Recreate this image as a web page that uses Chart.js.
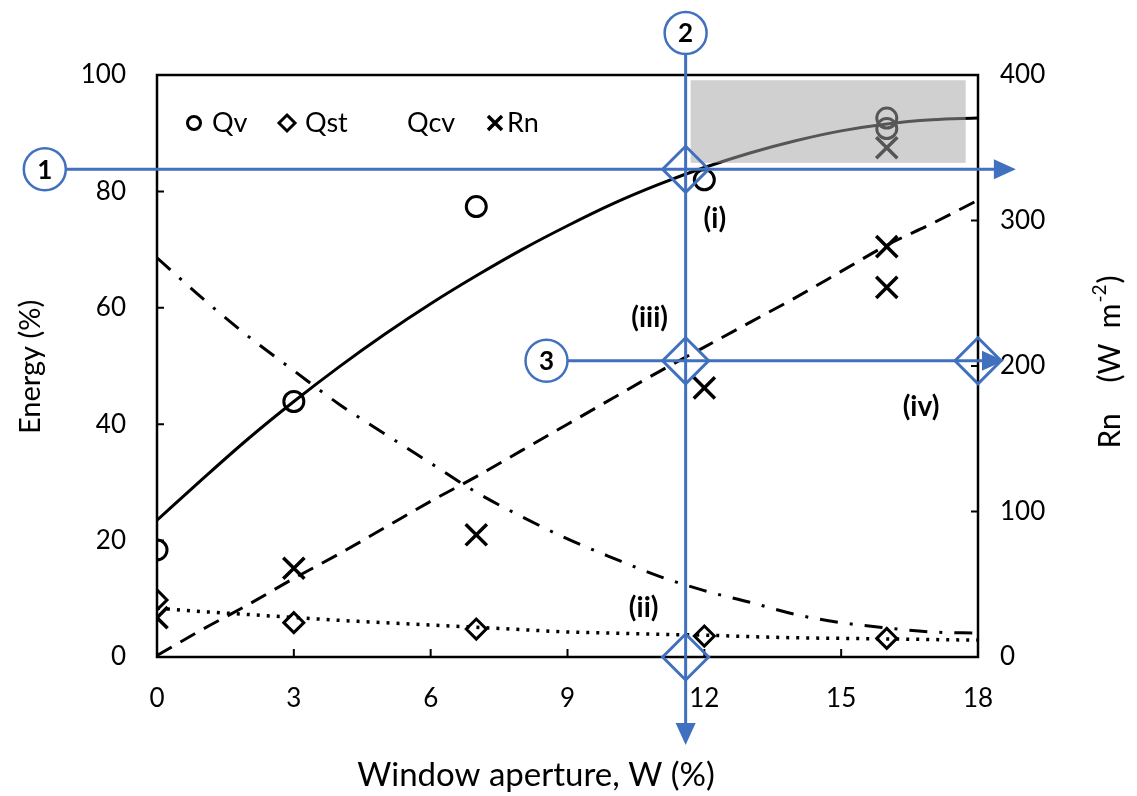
<!DOCTYPE html>
<html><head><meta charset="utf-8">
<script src="https://cdn.jsdelivr.net/npm/chart.js@4"></script>
<style>html,body{margin:0;padding:0;background:#fff}#wrap{width:1137px;height:796px}</style>
</head><body><div id="wrap"><canvas id="c" width="1137" height="796"></canvas></div>
<script>
// ---------- data ----------
const apertureTicks = [0, 3, 6, 9, 12, 15, 18];
const energyTicks = [0, 20, 40, 60, 80, 100];
const rnTicks = [0, 100, 200, 300, 400];
const legendLabels = ['Qv', 'Qst', 'Qcv', 'Rn'];

// measured points
const qvX = [0, 3, 7, 12, 16, 16];
const qvVal = [18.4, 43.9, 77.4, 82.0, 92.6, 90.8];
const qstX = [0, 3, 7, 12, 16];
const qstVal = [9.8, 5.9, 4.8, 3.6, 3.2];
const rnX = [0, 3, 7, 12, 16, 16, 16];
const rnVal = [27, 61, 84, 185, 282, 254, 350];

// fitted curves
const fitX = [0, 1, 2, 3, 4, 5, 6, 7, 8, 9, 10, 11, 12, 13, 14, 15, 16, 17, 18];
const qvFit = [23.5, 30.6, 37.5, 43.9, 49.9, 55.5, 60.7, 65.5, 70.0, 74.1, 77.9, 81.2, 84.1, 86.6, 88.7, 90.4, 91.6, 92.3, 92.6];
const qcvFit = [68.6, 61.6, 55.1, 49.2, 43.4, 38.3, 33.3, 28.3, 24.1, 20.3, 17.0, 13.9, 11.4, 9.4, 7.3, 5.9, 5.0, 4.3, 4.1];
const qstFit = [8.4, 7.8, 7.3, 6.8, 6.3, 5.9, 5.5, 5.1, 4.7, 4.3, 4.1, 3.9, 3.75, 3.5, 3.3, 3.2, 3.1, 3.0, 2.9];
const rnFit = [1, 19, 36, 54, 71, 89, 107, 124, 142, 160, 178, 196, 213, 230, 247, 265, 283, 298, 314];

// annotation guides (data units)
const guideW = 11.59;        // vertical guide (2)
const guide1E = 83.8;        // horizontal guide (1), energy %
const guide3E = 50.9;        // horizontal guide (3), energy %
const shadeBox = {x0: 11.7, x1: 17.73, y0: 84.9, y1: 99.1};

const FONT = 'Lato, "Open Sans", sans-serif';
const BLUE = '#4170BF';

const pts = (xs, ys) => xs.map((x, i) => ({x: x, y: ys[i]}));

function drawMarker(ctx, type, x, y, r, lw) {
  ctx.save();
  ctx.strokeStyle = '#000'; ctx.lineWidth = lw; ctx.setLineDash([]);
  ctx.beginPath();
  if (type === 'circle') { ctx.arc(x, y, r, 0, Math.PI * 2); }
  else if (type === 'diamond') { ctx.moveTo(x, y - r); ctx.lineTo(x + r, y); ctx.lineTo(x, y + r); ctx.lineTo(x - r, y); ctx.closePath(); ctx.fillStyle = '#fff'; ctx.fill(); }
  else if (type === 'cross') { ctx.moveTo(x - r, y - r); ctx.lineTo(x + r, y + r); ctx.moveTo(x + r, y - r); ctx.lineTo(x - r, y + r); }
  ctx.stroke();
  ctx.restore();
}

const framePlugin = {
  id: 'frame',
  afterDatasetsDraw(chart) {
    const {ctx, chartArea: a, scales} = chart;
    const sx = scales.x, sy = scales.y, sr = scales.y1;
    ctx.save();
    ctx.fillStyle = 'rgba(164,164,164,0.52)';
    const bx0 = sx.getPixelForValue(shadeBox.x0), bx1 = sx.getPixelForValue(shadeBox.x1);
    const by0 = sy.getPixelForValue(shadeBox.y1), by1 = sy.getPixelForValue(shadeBox.y0);
    ctx.fillRect(bx0, by0, bx1 - bx0, by1 - by0);
    ctx.strokeStyle = '#000'; ctx.lineWidth = 2.5; ctx.setLineDash([]);
    ctx.strokeRect(a.left, a.top, a.right - a.left, a.bottom - a.top);
    ctx.lineWidth = 2;
    ctx.beginPath();
    energyTicks.forEach(v => { const y = sy.getPixelForValue(v); ctx.moveTo(a.left, y); ctx.lineTo(a.left + 7, y); });
    rnTicks.forEach(v => { const y = sr.getPixelForValue(v); ctx.moveTo(a.right, y); ctx.lineTo(a.right - 7, y); });
    apertureTicks.forEach(v => { const x = sx.getPixelForValue(v); ctx.moveTo(x, a.bottom); ctx.lineTo(x, a.bottom - 8); });
    ctx.stroke();
    ctx.restore();
  },
  afterDraw(chart) {
    const {ctx, chartArea: a, scales} = chart;
    const sx = scales.x, sy = scales.y;
    ctx.save();
    // legend
    const ly = a.top + 48;
    ctx.font = '27px ' + FONT; ctx.fillStyle = '#000'; ctx.textBaseline = 'middle'; ctx.textAlign = 'left';
    drawMarker(ctx, 'circle', a.left + 37, ly, 6.5, 3); ctx.fillText(legendLabels[0], a.left + 55, ly);
    drawMarker(ctx, 'diamond', a.left + 130, ly, 8, 3); ctx.fillText(legendLabels[1], a.left + 148, ly);
    ctx.fillText(legendLabels[2], a.left + 250, ly);
    drawMarker(ctx, 'cross', a.left + 338, ly, 7, 3.5); ctx.fillText(legendLabels[3], a.left + 350, ly);

    // axis titles
    ctx.font = '33px ' + FONT; ctx.textAlign = 'center'; ctx.textBaseline = 'middle';
    ctx.fillText('Window aperture, W (%)', 536, 775);
    ctx.font = '29px ' + FONT;
    ctx.save(); ctx.translate(31, 367); ctx.rotate(-Math.PI / 2);
    ctx.fillText('Energy (%)', 0, 0); ctx.restore();
    ctx.save(); ctx.translate(1110, 363); ctx.rotate(-Math.PI / 2);
    const t1 = 'Rn    (W  m', t2 = '-2', t3 = ')';
    ctx.font = '30px ' + FONT; const w1 = ctx.measureText(t1).width, w3 = ctx.measureText(t3).width;
    ctx.font = '19px ' + FONT; const w2 = ctx.measureText(t2).width;
    let sxp = -(w1 + w2 + w3) / 2;
    ctx.textAlign = 'left';
    ctx.font = '30px ' + FONT; ctx.fillText(t1, sxp, 0);
    ctx.font = '19px ' + FONT; ctx.fillText(t2, sxp + w1 + 1, -10);
    ctx.font = '30px ' + FONT; ctx.fillText(t3, sxp + w1 + w2 + 2, 0);
    ctx.restore();

    // blue guides
    const gx = sx.getPixelForValue(guideW);
    const g1 = sy.getPixelForValue(guide1E);
    const g3 = sy.getPixelForValue(guide3E);
    const y0 = sy.getPixelForValue(0);
    const xR = a.right;
    ctx.strokeStyle = BLUE; ctx.fillStyle = BLUE; ctx.lineWidth = 3; ctx.setLineDash([]);
    const c1 = {x: sx.getPixelForValue(-2.46), y: g1};
    const c2 = {x: gx, y: sy.getPixelForValue(107.2)};
    const c3 = {x: sx.getPixelForValue(8.54), y: g3};
    const R = 21;
    ctx.beginPath();
    ctx.moveTo(c1.x + R, g1); ctx.lineTo(sx.getPixelForValue(18.83) - 18, g1);
    ctx.moveTo(gx, c2.y + R); ctx.lineTo(gx, sy.getPixelForValue(-15.1) - 18);
    ctx.moveTo(c3.x + R, g3); ctx.lineTo(sx.getPixelForValue(18.57) - 14, g3);
    ctx.stroke();
    function arrowR(tx, y) { ctx.beginPath(); ctx.moveTo(tx, y); ctx.lineTo(tx - 22, y - 10); ctx.lineTo(tx - 22, y + 10); ctx.closePath(); ctx.fill(); }
    function arrowD(x, ty) { ctx.beginPath(); ctx.moveTo(x, ty); ctx.lineTo(x - 10, ty - 22); ctx.lineTo(x + 10, ty - 22); ctx.closePath(); ctx.fill(); }
    arrowR(sx.getPixelForValue(18.83), g1);
    arrowD(gx, sy.getPixelForValue(-15.1));
    arrowR(sx.getPixelForValue(18.57), g3);
    function dia(x, y) { const d = 23; ctx.beginPath(); ctx.moveTo(x, y - d); ctx.lineTo(x + d, y); ctx.lineTo(x, y + d); ctx.lineTo(x - d, y); ctx.closePath(); ctx.stroke(); }
    dia(gx, g1); dia(gx, g3); dia(gx, y0); dia(xR, g3);
    [[c1, '1'], [c2, '2'], [c3, '3']].forEach(([c, t]) => {
      ctx.beginPath(); ctx.arc(c.x, c.y, R, 0, Math.PI * 2); ctx.fillStyle = '#fff'; ctx.fill();
      ctx.lineWidth = 2.5; ctx.strokeStyle = BLUE; ctx.stroke();
      ctx.fillStyle = '#000'; ctx.font = 'bold 26px ' + FONT; ctx.textAlign = 'center'; ctx.textBaseline = 'middle';
      ctx.fillText(t, c.x, c.y + 1);
    });
    // roman labels
    ctx.fillStyle = '#000'; ctx.font = 'bold 28px ' + FONT; ctx.textAlign = 'center'; ctx.textBaseline = 'middle';
    ctx.fillText('(i)', sx.getPixelForValue(12.23), sy.getPixelForValue(75.3));
    ctx.fillText('(ii)', sx.getPixelForValue(10.67), sy.getPixelForValue(8.4));
    ctx.fillText('(iii)', sx.getPixelForValue(10.8), sy.getPixelForValue(58.2));
    ctx.fillText('(iv)', sx.getPixelForValue(16.75), sy.getPixelForValue(43.0));
    ctx.restore();
  }
};

const tickFont = {family: FONT, size: 26};

new Chart(document.getElementById('c'), {
  type: 'scatter',
  data: {
    datasets: [
      {label: 'Qv fit', data: pts(fitX, qvFit), yAxisID: 'y', showLine: true, pointRadius: 0, borderColor: '#000', borderWidth: 3, cubicInterpolationMode: 'monotone'},
      {label: 'Qcv fit', data: pts(fitX, qcvFit), yAxisID: 'y', showLine: true, pointRadius: 0, borderColor: '#000', borderWidth: 3, borderDash: [18, 12, 3, 12], cubicInterpolationMode: 'monotone'},
      {label: 'Qst fit', data: pts(fitX, qstFit), yAxisID: 'y', showLine: true, pointRadius: 0, borderColor: '#000', borderWidth: 3.5, borderDash: [3, 7], cubicInterpolationMode: 'monotone'},
      {label: 'Rn fit', data: pts(fitX, rnFit), yAxisID: 'y1', showLine: true, pointRadius: 0, borderColor: '#000', borderWidth: 3, borderDash: [17, 10], cubicInterpolationMode: 'monotone'},
      {label: legendLabels[0], data: pts(qvX, qvVal), yAxisID: 'y', pointStyle: 'circle', pointRadius: 10, borderWidth: 3, borderColor: '#000', backgroundColor: 'rgba(0,0,0,0)'},
      {label: legendLabels[1], data: pts(qstX, qstVal), yAxisID: 'y', pointStyle: 'rectRot', pointRadius: 10, borderWidth: 3, borderColor: '#000', backgroundColor: '#fff'},
      {label: legendLabels[3], data: pts(rnX, rnVal), yAxisID: 'y1', pointStyle: 'crossRot', pointRadius: 15, borderWidth: 3.5, borderColor: '#000'}
    ]
  },
  options: {
    responsive: false, animation: false, devicePixelRatio: 1,
    layout: {padding: {top: 75, left: 0, right: 0, bottom: 0}},
    plugins: {legend: {display: false}, tooltip: {enabled: false}},
    scales: {
      x: {type: 'linear', position: 'bottom', min: 0, max: 18,
        afterBuildTicks: s => { s.ticks = apertureTicks.map(v => ({value: v})); },
        afterFit: s => { s.height = 139; },
        grid: {display: false, drawTicks: false}, border: {display: false},
        ticks: {font: tickFont, color: '#000', padding: 26, maxRotation: 0}},
      y: {type: 'linear', position: 'left', min: 0, max: 100,
        afterBuildTicks: s => { s.ticks = energyTicks.map(v => ({value: v})); },
        afterFit: s => { s.width = 157; },
        grid: {display: false, drawTicks: false}, border: {display: false},
        ticks: {font: tickFont, color: '#000', padding: 31}},
      y1: {type: 'linear', position: 'right', min: 0, max: 400,
        afterBuildTicks: s => { s.ticks = rnTicks.map(v => ({value: v})); },
        afterFit: s => { s.width = 159; },
        grid: {display: false, drawTicks: false}, border: {display: false},
        ticks: {font: tickFont, color: '#000', padding: 22}}
    }
  },
  plugins: [framePlugin]
});
</script></body></html>
